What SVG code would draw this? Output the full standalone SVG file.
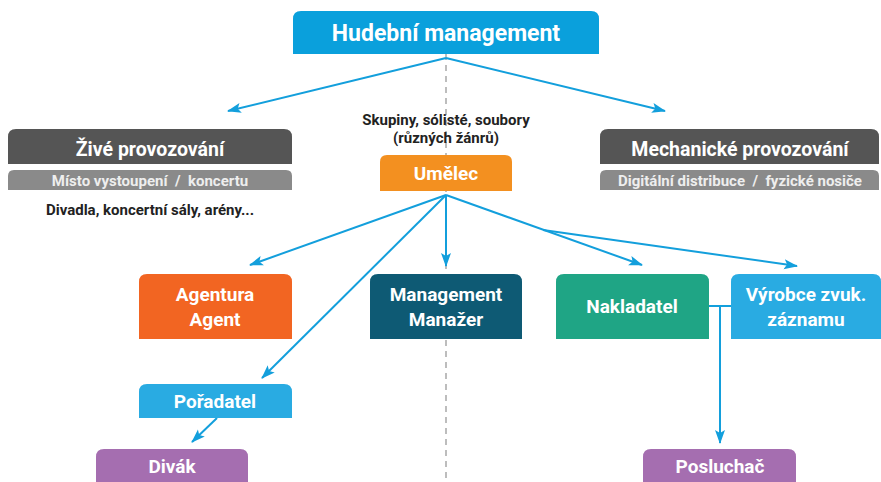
<svg xmlns="http://www.w3.org/2000/svg" width="881" height="482" viewBox="0 0 881 482">
<defs>
<style>
text{font-family:Roboto,"Noto Sans","Liberation Sans",sans-serif;font-weight:bold;text-anchor:middle}
.w{fill:#ffffff}
.t1{font-size:23px}
.t2{font-size:19px}
.th{font-size:19.5px}
.t3{font-size:15px;fill:#eeeeee;white-space:pre}
.dk{font-size:15px;fill:#222222}
.con{fill:none;stroke:#139fdc;stroke-width:2}
</style>
<marker id="ah" markerUnits="userSpaceOnUse" markerWidth="14" markerHeight="12" refX="13" refY="5" orient="auto" viewBox="0 0 14 10">
<path d="M0,0 L14,5 L0,10 L3,5 Z" fill="#139fdc"/>
</marker>
</defs>
<line x1="446" y1="54" x2="446" y2="482" stroke="#bdbdbd" stroke-width="2" stroke-dasharray="6,5"/>
<g id="connectors">
<polyline class="con" points="446,58 228,111" marker-end="url(#ah)"/>
<polyline class="con" points="446,58 665,111" marker-end="url(#ah)"/>
<polyline class="con" points="446,195 250,265" marker-end="url(#ah)"/>
<polyline class="con" points="446,195 262,378" marker-end="url(#ah)"/>
<polyline class="con" points="446,195 446,266" marker-end="url(#ah)"/>
<polyline class="con" points="446,195 642,265" marker-end="url(#ah)"/>
<polyline class="con" points="543,230 797,266" marker-end="url(#ah)"/>
<polyline class="con" points="217,418 192,442" marker-end="url(#ah)"/>
<polyline class="con" points="709,306 731,306"/>
<polyline class="con" points="720,306 720,443" marker-end="url(#ah)"/>
</g>
<g id="hudebni-management">
<path d="M293,54 V19 Q293,11 301,11 H591 Q599,11 599,19 V54 Z" fill="#0aa0dc"/>
<text class="w t1" x="446" y="41">Hudební management</text>
</g>
<g id="zive-provozovani">
<path d="M8,164 V137 Q8,129 16,129 H284 Q292,129 292,137 V164 Z" fill="#555555"/>
<text class="w th" x="150" y="156">Živé provozování</text>
<path d="M8,190 V176 Q8,170 14,170 H286 Q292,170 292,176 V190 Z" fill="#8a8a8a"/>
<text class="t3" x="150" y="186" xml:space="preserve">Místo vystoupení  /  koncertu</text>
<text class="dk" x="150" y="215">Divadla, koncertní sály, arény...</text>
</g>
<g id="mechanicke-provozovani">
<path d="M600,164 V137 Q600,129 608,129 H871 Q879,129 879,137 V164 Z" fill="#555555"/>
<text class="w th" x="740" y="156">Mechanické provozování</text>
<path d="M600,190 V176 Q600,170 606,170 H873 Q879,170 879,176 V190 Z" fill="#8a8a8a"/>
<text class="t3" x="740" y="186" xml:space="preserve">Digitální distribuce  /  fyzické nosiče</text>
</g>
<g id="umelec">
<text class="dk" x="446" y="125">Skupiny, sólisté, soubory</text>
<text class="dk" x="446" y="143">(různých žánrů)</text>
<path d="M380,191 V162 Q380,155 387,155 H505 Q512,155 512,162 V191 Z" fill="#f39020"/>
<text class="w t2" x="446" y="180">Umělec</text>
</g>
<g id="agentura">
<path d="M139,339 V282 Q139,274 147,274 H284 Q292,274 292,282 V339 Z" fill="#f26522"/>
<text class="w t2" x="215" y="301">Agentura</text>
<text class="w t2" x="215" y="326">Agent</text>
</g>
<g id="management">
<path d="M370,339 V282 Q370,274 378,274 H514 Q522,274 522,282 V339 Z" fill="#0e5a74"/>
<text class="w t2" x="446" y="301">Management</text>
<text class="w t2" x="446" y="326">Manažer</text>
</g>
<g id="nakladatel">
<path d="M556,339 V282 Q556,274 564,274 H701 Q709,274 709,282 V339 Z" fill="#1fa585"/>
<text class="w t2" x="632" y="313">Nakladatel</text>
</g>
<g id="vyrobce">
<path d="M731,339 V282 Q731,274 739,274 H873 Q881,274 881,282 V339 Z" fill="#29abe2"/>
<text class="w t2" x="806" y="301">Výrobce zvuk.</text>
<text class="w t2" x="806" y="326">záznamu</text>
</g>
<g id="poradatel">
<path d="M139,418 V392 Q139,384 147,384 H284 Q292,384 292,392 V418 Z" fill="#29abe2"/>
<text class="w t2" x="215" y="408">Pořadatel</text>
</g>
<g id="divak">
<path d="M96,482 V457 Q96,449 104,449 H240 Q248,449 248,457 V482 Z" fill="#a56eb0"/>
<text class="w t2" x="172" y="473">Divák</text>
</g>
<g id="posluchac">
<path d="M643,482 V457 Q643,449 651,449 H788 Q796,449 796,457 V482 Z" fill="#a56eb0"/>
<text class="w t2" x="720" y="473">Posluchač</text>
</g>
</svg>
